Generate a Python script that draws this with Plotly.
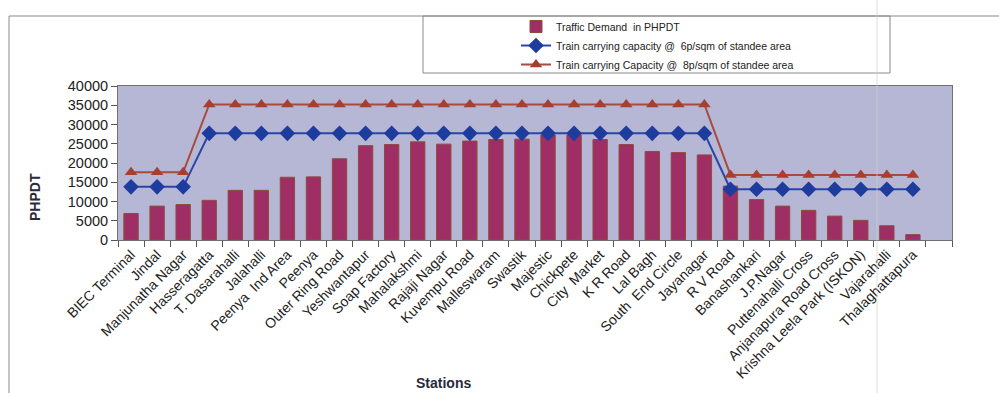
import plotly.graph_objects as go

# ---- data -------------------------------------------------------------
STATIONS = [
    "BIEC Terminal", "Jindal", "Manjunatha Nagar", "Hasseragatta",
    "T. Dasarahalli", "Jalahalli", "Peenya  Ind Area", "Peenya",
    "Outer Ring Road", "Yeshwantapur", "Soap Factory", "Mahalakshmi",
    "Rajaji Nagar", "Kuvempu Road", "Malleswaram", "Swastik", "Majestic",
    "Chickpete", "City  Market", "K R Road", "Lal Bagh", "South  End Circle",
    "Jayanagar", "R V Road", "Banashankari", "J.P.Nagar",
    "Puttenahalli Cross", "Anjanapura Road Cross",
    "Krishna Leela Park (ISKON)", "Vajarahalli", "Thalaghattapura",
]

DEMAND_PHPDT = [
    6900, 8800, 9200, 10300, 12900, 12900, 16300, 16400, 21100, 24500,
    24800, 25500, 24900, 25700, 26100, 26200, 27300, 27300, 26100, 24800,
    23000, 22700, 22100, 14000, 10500, 8800, 7700, 6200, 5100, 3700, 1400,
]

CAPACITY_6P = [13800] * 3 + [27700] * 20 + [13200] * 8
CAPACITY_8P = [17600] * 3 + [35200] * 20 + [16900] * 8

Y_TICKS = [0, 5000, 10000, 15000, 20000, 25000, 30000, 35000, 40000]

# ---- page geometry (pixels) ------------------------------------------
W, H = 999, 393
L, R, T, B = 118, 47, 86, 153
FONT = "Liberation Sans, Arial, sans-serif"


def px_x(p):
    return (p - L) / (W - L - R)


def px_y(p):
    return (H - B - p) / (H - T - B)


# one spare slot after the last station, as on the original axis
categories = STATIONS + [" "]

fig = go.Figure()

fig.add_trace(go.Bar(
    x=STATIONS, y=DEMAND_PHPDT,
    name="Traffic Demand  in PHPDT",
    marker=dict(color="#9e2e64", line=dict(color="#8c4c3c", width=1)),
    width=0.55,
))

fig.add_trace(go.Scatter(
    x=STATIONS, y=CAPACITY_6P,
    name="Train carrying capacity @  6p/sqm of standee area",
    mode="lines+markers",
    line=dict(color="#2a45a8", width=2),
    marker=dict(symbol="diamond", size=12, color="#1d3c9e"),
))

fig.add_trace(go.Scatter(
    x=STATIONS, y=CAPACITY_8P,
    name="Train carrying Capacity @  8p/sqm of standee area",
    mode="lines+markers",
    line=dict(color="#a84a40", width=2),
    marker=dict(symbol="triangle-up", size=11, color="#a83e30"),
))

shapes = [
    # outer frame: top and left edges
    dict(type="line", xref="paper", yref="paper",
         x0=px_x(9), x1=px_x(999), y0=px_y(16), y1=px_y(16),
         line=dict(color="#8a8a8a", width=1)),
    dict(type="line", xref="paper", yref="paper",
         x0=px_x(9), x1=px_x(9), y0=px_y(16), y1=px_y(393),
         line=dict(color="#8a8a8a", width=1)),
    # legend box
    dict(type="rect", xref="paper", yref="paper",
         x0=px_x(423), x1=px_x(890), y0=px_y(16), y1=px_y(73),
         line=dict(color="#8a8a8a", width=1), fillcolor="white",
         layer="below"),
    # faint vertical crease line
    dict(type="line", xref="paper", yref="paper",
         x0=px_x(877), x1=px_x(877), y0=px_y(0), y1=px_y(393),
         line=dict(color="rgba(205,205,205,0.7)", width=1), layer="above"),
]

fig.update_layout(
    width=W, height=H,
    margin=dict(l=L, r=R, t=T, b=B),
    paper_bgcolor="white",
    plot_bgcolor="#b6b7d4",
    font=dict(family=FONT, color="#222222"),
    showlegend=True,
    legend=dict(
        x=px_x(516), y=px_y(12), xanchor="left", yanchor="top",
        bgcolor="rgba(0,0,0,0)", borderwidth=0,
        font=dict(family=FONT, size=10.5, color="#222222"),
        tracegroupgap=0, itemwidth=30,
    ),
    bargap=0.45,
    shapes=shapes,
    annotations=[
        dict(text="<b>PHPDT</b>", xref="paper", yref="paper",
             x=px_x(35), y=px_y(197), textangle=-90, showarrow=False,
             font=dict(family=FONT, size=14, color="#2a2a3a"),
             xanchor="center", yanchor="middle"),
        dict(text="<b>Stations</b>", xref="paper", yref="paper",
             x=px_x(443), y=px_y(383), showarrow=False,
             font=dict(family=FONT, size=14, color="#2a2a3a"),
             xanchor="center", yanchor="middle"),
    ],
)

fig.update_xaxes(
    type="category",
    categoryorder="array", categoryarray=categories,
    range=[-0.5, len(categories) - 0.5],
    tickson="boundaries",
    ticks="outside", ticklen=6, tickcolor="#555555",
    tickangle=-45,
    tickfont=dict(family=FONT, size=14, color="#222222"),
    showline=True, linecolor="#707070", linewidth=1, mirror=True,
    showgrid=False, zeroline=False,
)

fig.update_yaxes(
    range=[0, 40000],
    tickmode="array", tickvals=Y_TICKS,
    ticktext=[str(v) for v in Y_TICKS],
    ticks="outside", ticklen=6, tickcolor="#555555",
    tickfont=dict(family=FONT, size=14.5, color="#222222"),
    showline=True, linecolor="#707070", linewidth=1, mirror=True,
    showgrid=False, zeroline=False,
)

fig.write_html("out.html")
